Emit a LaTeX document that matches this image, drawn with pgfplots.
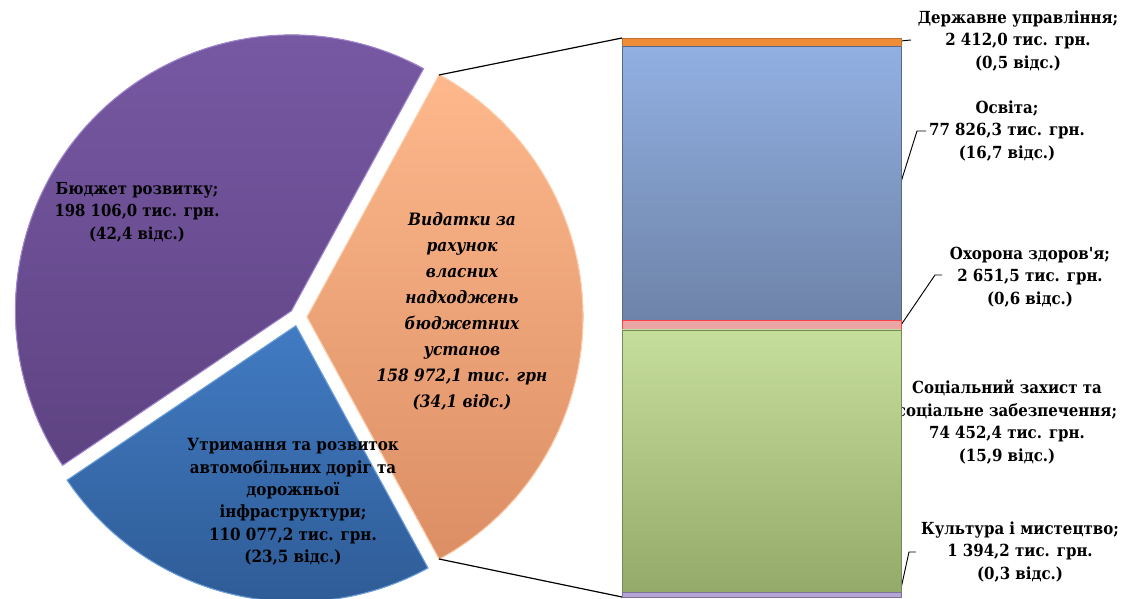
\documentclass[border=0pt]{standalone}
\usepackage{fontspec}
\setmainfont{DejaVu Serif Condensed}
\usepackage{pgfplots}
\pgfplotsset{compat=1.18}
\definecolor{purA}{RGB}{121,90,166}
\definecolor{purB}{RGB}{94,67,130}
\definecolor{purE}{RGB}{160,135,205}
\definecolor{bluA}{RGB}{66,124,196}
\definecolor{bluB}{RGB}{44,88,145}
\definecolor{bluE}{RGB}{110,160,220}
\definecolor{orA}{RGB}{253,184,140}
\definecolor{orB}{RGB}{220,142,100}
\definecolor{orE}{RGB}{255,205,170}
\definecolor{bbA}{RGB}{145,176,226}
\definecolor{bbB}{RGB}{110,131,168}
\definecolor{grA}{RGB}{198,222,155}
\definecolor{grB}{RGB}{148,170,106}
\definecolor{orBar}{RGB}{240,140,55}
\definecolor{pkBar}{RGB}{235,165,165}
\definecolor{puBar}{RGB}{180,165,215}
\begin{document}
\begin{tikzpicture}
\useasboundingbox (0,0) rectangle (852pt,449.25pt);
\clip (0,0) rectangle (852pt,449.25pt);
% shares of the pie, per cent
\def\pA{42.4}% Бюджет розвитку
\def\pB{23.5}% Утримання та розвиток доріг
\def\pC{34.1}% Видатки за рахунок власних надходжень
\pgfmathsetmacro\tot{\pA+\pB+\pC}
\pgfmathsetmacro\sC{-\pC/\tot*180}
\pgfmathsetmacro\eC{\pC/\tot*180}
\pgfmathsetmacro\eA{\eC+\pA/\tot*360}
\pgfmathsetmacro\eB{\eA+\pB/\tot*360}
\pgfmathsetmacro\mA{(\eC+\eA)/2}
\pgfmathsetmacro\mB{(\eA+\eB)/2}
\pgfmathsetmacro\mC{0}
\def\R{207pt}
\def\ex{6.75pt}
\begin{axis}[at={(0,0)}, anchor=south west, width=852pt, height=449.25pt,
  scale only axis, xmin=0, xmax=1136, ymin=0, ymax=599, hide axis, clip=false]
% slices
\fill[top color=purA, bottom color=purB, draw=purE, line width=0.8pt]
  (axis cs:298,282) ++(\mA:\ex) -- ++(\eC:\R) arc[start angle=\eC, end angle=\eA, radius=\R] -- cycle;
\fill[top color=bluA, bottom color=bluB, draw=bluE, line width=0.8pt]
  (axis cs:298,282) ++(\mB:\ex) -- ++(\eA:\R) arc[start angle=\eA, end angle=\eB, radius=\R] -- cycle;
\fill[top color=orA, bottom color=orB, draw=orE, line width=0.8pt]
  (axis cs:298,282) ++(\mC:\ex) -- ++(\sC:\R) arc[start angle=\sC, end angle=\eC, radius=\R] -- cycle;
% connector lines
\addplot[black, line width=0.9pt] coordinates {(439,524) (622,561)};
\addplot[black, line width=0.9pt] coordinates {(439,40) (622,2)};
% leader lines
\addplot[black, line width=0.7pt] coordinates {(901,558) (911,559)};
\addplot[black, line width=0.7pt] coordinates {(901,417) (917,468) (926,468)};
\addplot[black, line width=0.7pt] coordinates {(901,274) (935,324) (942,324)};
\addplot[black, line width=0.7pt] coordinates {(900,6) (909,47) (916,47)};
% pie labels
\node[align=center, font=\bfseries\fontsize{12.4}{16.8}\selectfont] at (axis cs:137,387)
  {Бюджет розвитку;\\ 198 106,0 тис. грн.\\ (42,4 відс.)};
\node[align=center, font=\bfseries\fontsize{12.6}{16.8}\selectfont] at (axis cs:293,97)
  {Утримання та розвиток\\ автомобільних доріг та\\ дорожньої\\ інфраструктури;\\ 110 077,2 тис. грн.\\ (23,5 відс.)};
\node[align=center, font=\bfseries\itshape\fontsize{12.8}{19.5}\selectfont] at (axis cs:462,288)
  {Видатки за\\ рахунок\\ власних\\ надходжень\\ бюджетних\\ установ\\ 158 972,1 тис. грн\\ (34,1 відс.)};
% bar labels
\node[align=center, font=\bfseries\fontsize{12.5}{17}\selectfont] at (axis cs:1018,558)
  {Державне управління;\\ 2 412,0 тис. грн.\\ (0,5 відс.)};
\node[align=center, font=\bfseries\fontsize{12.5}{17}\selectfont] at (axis cs:1007,468)
  {Освіта;\\ 77 826,3 тис. грн.\\ (16,7 відс.)};
\node[align=center, font=\bfseries\fontsize{12.5}{17}\selectfont] at (axis cs:1030,322)
  {Охорона здоров\textquotesingle я;\\ 2 651,5 тис. грн.\\ (0,6 відс.)};
\node[align=center, font=\bfseries\fontsize{12.5}{17}\selectfont] at (axis cs:1007,177)
  {Соціальний захист та\\ соціальне забезпечення;\\ 74 452,4 тис. грн.\\ (15,9 відс.)};
\node[align=center, font=\bfseries\fontsize{12.5}{17}\selectfont] at (axis cs:1020,47)
  {Культура і мистецтво;\\ 1 394,2 тис. грн.\\ (0,3 відс.)};
\end{axis}
% stacked bar of the breakdown (тис. грн)
\begin{axis}[at={(0,0)}, anchor=south west, width=852pt, height=449.25pt,
  scale only axis, xmin=0, xmax=1136, ymin=-568, ymax=169524, hide axis, clip=false,
  ybar stacked, bar width=209.25pt]
\addplot[draw=puBar!70!black, line width=0.4pt, fill=puBar] coordinates {(761.5,1394.2)};
\addplot[draw=grB!80!black, line width=0.4pt, top color=grA, bottom color=grB] coordinates {(761.5,74452.4)};
\addplot[draw=red!60!pkBar, line width=0.4pt, fill=pkBar] coordinates {(761.5,2651.5)};
\addplot[draw=bbB!80!black, line width=0.4pt, top color=bbA, bottom color=bbB] coordinates {(761.5,77826.3)};
\addplot[draw=orBar!80!black, line width=0.4pt, fill=orBar] coordinates {(761.5,2412.0)};
\end{axis}
\end{tikzpicture}
\end{document}
